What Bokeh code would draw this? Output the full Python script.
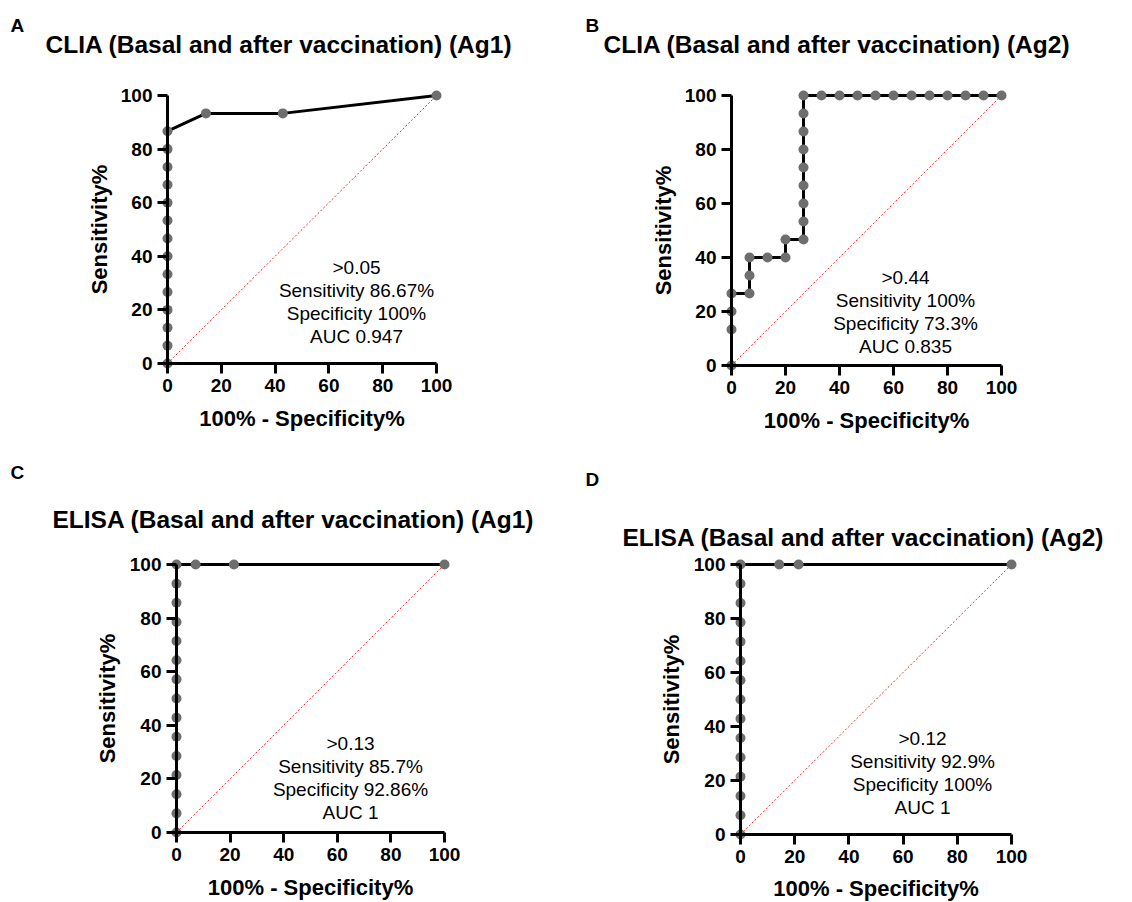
import math
from bokeh.plotting import figure
from bokeh.models import Range1d, FixedTicker, Label
from bokeh.layouts import row, column
from bokeh.embed import file_html
from bokeh.resources import INLINE

# ---------------- data ----------------
a_fpr = [0, 0, 0, 0, 0, 0, 0, 0, 0, 0, 0, 0, 0, 0, 14.29, 42.86, 100]
a_sens = [0, 6.67, 13.33, 20, 26.67, 33.33, 40, 46.67, 53.33, 60, 66.67, 73.33, 80, 86.67, 93.33, 93.33, 100]

b_fpr = [0, 0, 0, 0, 6.67, 6.67, 6.67, 13.33, 20, 20, 26.67, 26.67, 26.67, 26.67, 26.67,
         26.67, 26.67, 26.67, 26.67, 33.33, 40, 46.67, 53.33, 60, 66.67, 73.33, 80, 86.67, 93.33, 100]
b_sens = [0, 13.33, 20, 26.67, 26.67, 33.33, 40, 40, 40, 46.67, 46.67, 53.33, 60, 66.67, 73.33,
          80, 86.67, 93.33, 100, 100, 100, 100, 100, 100, 100, 100, 100, 100, 100, 100]

c_fpr = [0, 0, 0, 0, 0, 0, 0, 0, 0, 0, 0, 0, 0, 0, 0, 7.14, 21.43, 100]
c_sens = [0, 7.14, 14.29, 21.43, 28.57, 35.71, 42.86, 50, 57.14, 64.29, 71.43, 78.57, 85.71, 92.86, 100, 100, 100, 100]

d_fpr = [0, 0, 0, 0, 0, 0, 0, 0, 0, 0, 0, 0, 0, 0, 0, 14.29, 21.43, 100]
d_sens = [0, 7.14, 14.29, 21.43, 28.57, 35.71, 42.86, 50, 57.14, 64.29, 71.43, 78.57, 85.71, 92.86, 100, 100, 100, 100]

chance_x = [0, 100]
chance_y = [0, 100]

tick_values = [0, 20, 40, 60, 80, 100]
x_title = "100% - Specificity%"
y_title = "Sensitivity%"

letters = ["A", "B", "C", "D"]
titles = ["CLIA (Basal and after vaccination) (Ag1)",
          "CLIA (Basal and after vaccination) (Ag2)",
          "ELISA (Basal and after vaccination) (Ag1)",
          "ELISA (Basal and after vaccination) (Ag2)"]
notes = [[">0.05", "Sensitivity 86.67%", "Specificity 100%", "AUC 0.947"],
         [">0.44", "Sensitivity 100%", "Specificity 73.3%", "AUC 0.835"],
         [">0.13", "Sensitivity 85.7%", "Specificity 92.86%", "AUC 1"],
         [">0.12", "Sensitivity 92.9%", "Specificity 100%", "AUC 1"]]

# ---------------- style / layout (page pixels) ----------------
FONT = "Liberation Sans"
POINT_COLOR = "#6e6e6e"
NOTE_STEP = 23


def make_panel(fpr, sens, letter, title, note, fig_box, data_box, pos):
    fx, fy, fw, fh = fig_box
    x0, x1, y0, y1 = data_box
    kx = (x1 - x0) / 100.0
    ky = (y0 - y1) / 100.0
    p = figure(width=fw, height=fh, frame_width=fw, frame_height=fh,
               x_range=Range1d((fx - x0) / kx, (fx + fw - x0) / kx),
               y_range=Range1d((y0 - (fy + fh)) / ky, (y0 - fy) / ky),
               min_border_left=0, min_border_right=0, min_border_top=0, min_border_bottom=0,
               toolbar_location=None, output_backend="svg")
    p.outline_line_color = None
    p.background_fill_color = "white"
    p.border_fill_color = "white"
    p.xgrid.visible = False
    p.ygrid.visible = False

    def dx(px):
        return (px - x0) / kx

    def dy(py):
        return (y0 - py) / ky

    p.line(chance_x, chance_y, line_color="#ff2a2a", line_width=1, line_dash="2 2")
    p.line(fpr, sens, line_color="black", line_width=3)
    p.scatter(fpr, sens, size=10, fill_color=POINT_COLOR, line_color=None)

    for ax in (p.xaxis[0], p.yaxis[0]):
        ax.fixed_location = 0
        ax.bounds = (0, 100)
        ax.ticker = FixedTicker(ticks=tick_values)
        ax.axis_line_width = 3
        ax.axis_line_color = "black"
        ax.major_tick_line_width = 3
        ax.major_tick_line_color = "black"
        ax.major_tick_out = 10
        ax.major_tick_in = 0
        ax.minor_tick_out = 0
        ax.minor_tick_in = 0
        ax.major_label_text_font = FONT
        ax.major_label_text_font_size = "19px"
        ax.major_label_text_font_style = "bold"
        ax.major_label_text_color = "black"
        ax.major_label_standoff = 5

    def lab(px, py, text, size, style="bold", align="left", angle=0.0):
        p.add_layout(Label(x=dx(px), y=dy(py), text=text, angle=angle,
                           text_font=FONT, text_font_size=size, text_font_style=style,
                           text_align=align, text_baseline="middle", text_color="black"))

    lab(pos["letter"][0], pos["letter"][1], letter, "19px")
    lab(pos["title"][0], pos["title"][1], title, "24.5px")
    lab(pos["xlab"][0], pos["xlab"][1], x_title, "22px", align="center")
    lab(pos["ylab"][0], pos["ylab"][1], y_title, "22px", align="center", angle=math.pi / 2)
    cx, cy = pos["note"]
    for i, line in enumerate(note):
        lab(cx, cy + i * NOTE_STEP, line, "19px", style="normal", align="center")
    return p


pa = make_panel(a_fpr, a_sens, letters[0], titles[0], notes[0],
                (0, 0, 566, 451), (167, 436, 363, 95),
                dict(letter=(10, 25), title=(45, 44), xlab=(301.5, 418), ylab=(99, 229), note=(356, 267)))
pb = make_panel(b_fpr, b_sens, letters[1], titles[1], notes[1],
                (566, 0, 566, 451), (731, 1001, 365, 95),
                dict(letter=(585, 25), title=(603, 44), xlab=(866, 420), ylab=(663, 230), note=(905, 277)))
pc = make_panel(c_fpr, c_sens, letters[2], titles[2], notes[2],
                (0, 451, 566, 451), (176, 444, 832, 564),
                dict(letter=(10, 472), title=(52, 519), xlab=(310, 887), ylab=(107, 698), note=(350, 743)))
pd = make_panel(d_fpr, d_sens, letters[3], titles[3], notes[3],
                (566, 451, 566, 451), (740, 1011, 834, 564),
                dict(letter=(585, 479), title=(622, 537), xlab=(875.5, 888), ylab=(671, 699), note=(922, 738)))

layout = column(row(pa, pb), row(pc, pd))

open("out.html", "w").write(file_html(layout, INLINE))
